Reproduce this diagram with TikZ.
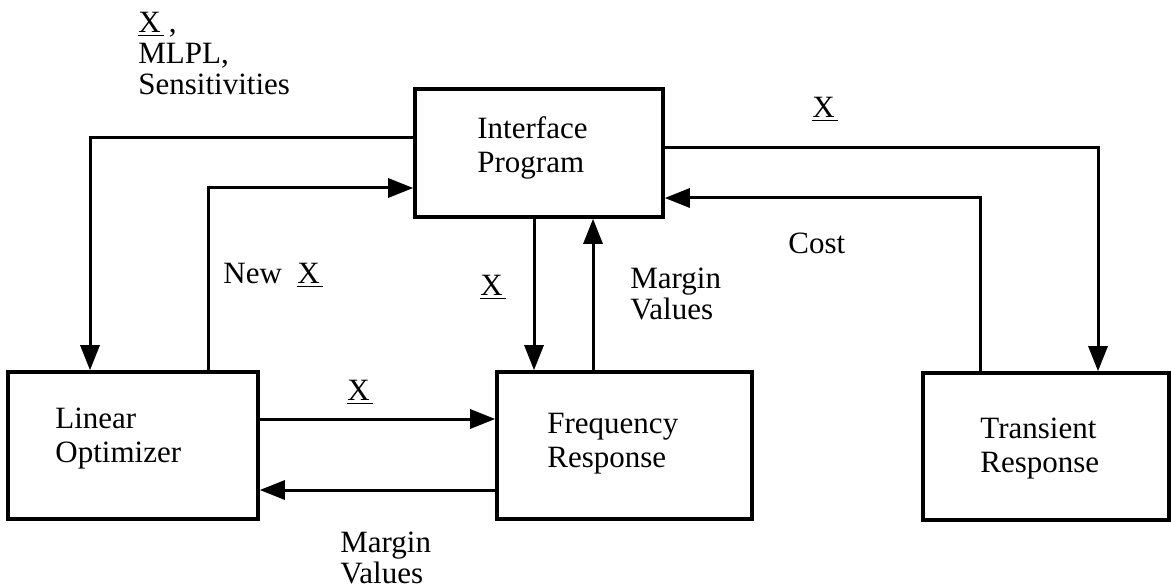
\documentclass[tikz,border=0pt]{standalone}
\usepackage{fontspec}
\setmainfont{Liberation Serif}
\usetikzlibrary{arrows.meta}
\newcommand{\vecX}{\underline{X\kern1.5pt}}
\begin{document}
\begin{tikzpicture}[x=0.5pt, y=-0.5pt,
    block/.style={draw, line width=1.8pt, inner sep=0pt},
    blocktext/.style={align=left, inner sep=0pt, anchor=north west, font=\fontsize{15.5}{17}\selectfont},
    flowlabel/.style={align=left, inner sep=0pt, anchor=north west, font=\fontsize{15.5}{15.5}\selectfont},
    flow/.style={line width=1.5pt, -{Triangle[length=12.5pt, width=9.5pt]}}]
    \useasboundingbox (0,0) rectangle (1171,588);
    % boxes
    \node[block, minimum width=124pt, minimum height=64pt] (ip) at (539,153) {};
    \node[block, minimum width=125pt, minimum height=73.5pt] (lo) at (133,445.5) {};
    \node[block, minimum width=127.5pt, minimum height=73.5pt] (fr) at (624.5,445.5) {};
    \node[block, minimum width=123pt, minimum height=73.5pt] (tr) at (1046,446.5) {};
    \node[blocktext] (iptext) at (477,116) {Interface\\Program};
    \node[blocktext] (lotext) at (55,408) {Linear\\Optimizer};
    \node[blocktext] (frtext) at (547,413) {Frequency\\Response};
    \node[blocktext] (trtext) at (980,418) {Transient\\Response};
    % connectors
    \draw[flow] ([yshift=7.5pt]ip.west) -| ([xshift=-21.5pt]lo.north);
    \draw[flow] ([xshift=37.5pt]lo.north) |- ([yshift=-17.5pt]ip.west);
    \draw[flow] ([xshift=-2.5pt]ip.south) -- ([xshift=-2.5pt]ip.south |- fr.north);
    \draw[flow] ([xshift=27pt]ip.south |- fr.north) -- ([xshift=27pt]ip.south);
    \draw[flow] ([yshift=2.5pt]ip.east) -| ([xshift=26pt]tr.north);
    \draw[flow] ([xshift=-33pt]tr.north) |- ([yshift=-22.5pt]ip.east);
    \draw[flow] ([yshift=13.25pt]lo.east) -- ([yshift=13.25pt]lo.east -| fr.west);
    \draw[flow] ([yshift=-22.25pt]lo.east -| fr.west) -- ([yshift=-22.25pt]lo.east);
    % labels
    \node[flowlabel] (sens) at (138,12) {\vecX\,,\\MLPL,\\Sensitivities};
    \node[flowlabel] (xtr) at (812,97) {\vecX};
    \node[flowlabel] (cost) at (788,233) {Cost};
    \node[flowlabel] (newx) at (223,263) {New\ \ \vecX};
    \node[flowlabel] (xfr) at (480,275) {\vecX};
    \node[flowlabel] (mvup) at (630,268) {Margin\\Values};
    \node[flowlabel] (xlo) at (347,380) {\vecX};
    \node[flowlabel] (mvlo) at (340,532) {Margin\\Values};
\end{tikzpicture}
\end{document}
